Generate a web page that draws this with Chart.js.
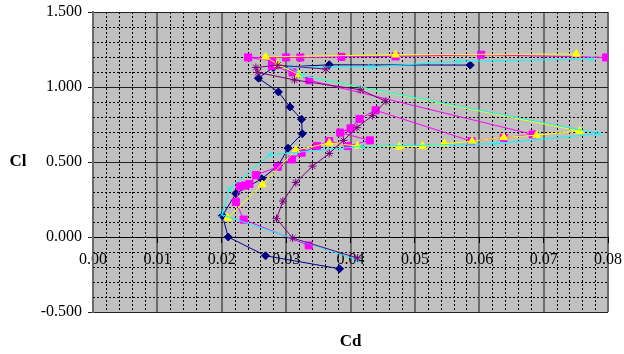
<!DOCTYPE html>
<html>
<head>
<meta charset="utf-8">
<script src="https://cdn.jsdelivr.net/npm/chart.js@4/dist/chart.umd.min.js"></script>
<style>
  html, body { margin: 0; padding: 0; background: #ffffff; }
  canvas { display: block; }
</style>
</head>
<body>
<canvas id="polar" width="624" height="354"></canvas>
<script>
// Drag polar: Cd on x, Cl on y, five runs
const navyCd = [0.0383, 0.0268, 0.0210, 0.0201, 0.0222, 0.0262, 0.0288, 0.0303, 0.0325, 0.0324, 0.0306, 0.0288, 0.0257, 0.0280, 0.0367, 0.0586];
const navyCl = [-0.212, -0.125, 0.000, 0.142, 0.290, 0.388, 0.477, 0.592, 0.689, 0.785, 0.867, 0.967, 1.059, 1.130, 1.148, 1.146];

const magCd = [0.0335, 0.0234, 0.0222, 0.0228, 0.0236, 0.0243, 0.0253, 0.0287, 0.0309, 0.0324, 0.0348, 0.0367, 0.0396, 0.0430, 0.0384, 0.0400, 0.0414, 0.0439, 0.0588, 0.0638, 0.0683, 0.0336, 0.0310, 0.0278, 0.0278, 0.0241, 0.0300, 0.0322, 0.0386, 0.0470, 0.0603, 0.0797];
const magCl = [-0.056, 0.116, 0.234, 0.338, 0.343, 0.353, 0.412, 0.468, 0.517, 0.562, 0.606, 0.639, 0.606, 0.644, 0.696, 0.724, 0.787, 0.845, 0.639, 0.662, 0.684, 1.045, 1.097, 1.141, 1.175, 1.197, 1.197, 1.197, 1.201, 1.204, 1.215, 1.197];

const yelCd = [0.0209, 0.0263, 0.0315, 0.0367, 0.0411, 0.0476, 0.0512, 0.0546, 0.0589, 0.0638, 0.0689, 0.0756, 0.0320, 0.0287, 0.0268, 0.0470, 0.0751];
const yelCl = [0.127, 0.350, 0.579, 0.627, 0.607, 0.601, 0.606, 0.622, 0.639, 0.664, 0.679, 0.706, 1.081, 1.152, 1.201, 1.215, 1.220];

const cyanCd = [0.0411, 0.0200, 0.0212, 0.0274, 0.0417, 0.0625, 0.0787, 0.0325, 0.0305, 0.0432, 0.0568, 0.0776];
const cyanCl = [-0.152, 0.149, 0.321, 0.548, 0.604, 0.622, 0.689, 1.076, 1.134, 1.134, 1.171, 1.186];

const purCd = [0.0411, 0.0310, 0.0285, 0.0295, 0.0315, 0.0341, 0.0367, 0.0389, 0.0410, 0.0434, 0.0455, 0.0415, 0.0313, 0.0256, 0.0253, 0.0287, 0.0362];
const purCl = [-0.140, -0.007, 0.122, 0.239, 0.363, 0.472, 0.557, 0.644, 0.729, 0.809, 0.905, 0.982, 1.047, 1.097, 1.130, 1.146, 1.119];

// Axis ranges and tick steps
const cdRange = [0.00, 0.08];
const clRange = [-0.5, 1.5];
const cdMajor = 0.01, cdMinor = 0.002;
const clMajor = 0.5, clMinor = 0.1;

const pts = (xs, ys) => xs.map((x, i) => ({ x: x, y: ys[i] }));

Chart.defaults.font.family = "'Liberation Serif', 'Times New Roman', serif";
Chart.defaults.color = '#000';

function onMajor(v, step) {
  const r = v / step;
  return Math.abs(r - Math.round(r)) < 1e-6;
}

function series(label, cd, cl, color, style, radius, order) {
  return {
    label: label,
    data: pts(cd, cl),
    showLine: true,
    borderColor: color,
    backgroundColor: color,
    borderWidth: 1,
    pointStyle: style,
    pointRadius: radius,
    pointBorderWidth: 1,
    pointBorderColor: color,
    pointBackgroundColor: color,
    xAxisID: 'x',
    yAxisID: 'y',
    order: order
  };
}

// keep label overhang from shrinking the plot area
function noOverhang(s) {
  s.paddingLeft = 0; s.paddingRight = 0; s.paddingTop = 0; s.paddingBottom = 0;
}

const plotBackground = {
  id: 'plotBackground',
  beforeDraw(chart) {
    const a = chart.chartArea, ctx = chart.ctx;
    ctx.save();
    ctx.fillStyle = '#c0c0c0';
    ctx.fillRect(a.left, a.top, a.right - a.left, a.bottom - a.top);
    ctx.restore();
  }
};

// Dotted minor grid, laid out from the minor-step scales' own ticks
const minorGrid = {
  id: 'minorGrid',
  beforeDatasetsDraw(chart) {
    const a = chart.chartArea, ctx = chart.ctx;
    const xs = chart.scales.xMinor, ys = chart.scales.yMinor;
    ctx.save();
    ctx.strokeStyle = '#000';
    ctx.lineWidth = 1;
    ctx.setLineDash([2, 2]);
    xs.ticks.forEach((t) => {
      if (onMajor(t.value, cdMajor)) return;
      const px = Math.round(xs.getPixelForValue(t.value)) + 0.5;
      ctx.beginPath(); ctx.moveTo(px, a.top); ctx.lineTo(px, a.bottom); ctx.stroke();
    });
    ys.ticks.forEach((t) => {
      if (onMajor(t.value, clMajor)) return;
      const py = Math.round(ys.getPixelForValue(t.value)) + 0.5;
      ctx.beginPath(); ctx.moveTo(a.left, py); ctx.lineTo(a.right, py); ctx.stroke();
    });
    ctx.restore();
  }
};

// Horizontal "Cl" axis title beside the value axis
const clTitle = {
  id: 'clTitle',
  afterDraw(chart) {
    const ctx = chart.ctx;
    const y = chart.scales.y.getPixelForValue(0.5);
    ctx.save();
    ctx.font = "bold 17px 'Liberation Serif', serif";
    ctx.fillStyle = '#000';
    ctx.textAlign = 'center';
    ctx.textBaseline = 'middle';
    ctx.fillText('Cl', 18, y);
    ctx.restore();
  }
};

new Chart(document.getElementById('polar'), {
  type: 'scatter',
  data: {
    datasets: [
      series('Series1', navyCd, navyCl, '#000080', 'rectRot', 4, 5),
      series('Series2', magCd, magCl, '#ff00ff', 'rect', 5, 4),
      series('Series3', yelCd, yelCl, '#ffff00', 'triangle', 4.5, 3),
      series('Series4', cyanCd, cyanCl, '#00ffff', 'crossRot', 4, 2),
      series('Series5', purCd, purCl, '#800080', 'star', 4, 1)
    ]
  },
  options: {
    responsive: false,
    devicePixelRatio: 1,
    animation: false,
    layout: { padding: { top: 12, right: 16, left: 0, bottom: 0 } },
    plugins: { legend: { display: false }, tooltip: { enabled: false } },
    scales: {
      x: {
        type: 'linear', position: 'bottom', min: cdRange[0], max: cdRange[1],
        ticks: { display: false, stepSize: cdMajor },
        grid: { color: '#6b6b6b', lineWidth: 2, drawTicks: false },
        border: { display: false },
        title: { display: true, text: 'Cd', color: '#000', font: { size: 17, weight: 'bold' }, padding: { top: 0, bottom: 2 } },
        afterFit(s) { s.height = 42; noOverhang(s); }
      },
      xMinor: {
        type: 'linear', axis: 'x', position: 'bottom', display: true, min: cdRange[0], max: cdRange[1],
        ticks: { display: false, stepSize: cdMinor, autoSkip: false },
        grid: { display: false, drawTicks: false },
        border: { display: false },
        afterFit(s) { s.height = 0; noOverhang(s); }
      },
      xAxis0: {
        type: 'linear', axis: 'x', position: { y: 0 }, min: cdRange[0], max: cdRange[1],
        ticks: { stepSize: cdMajor, color: '#000', font: { size: 16 }, padding: 8, maxRotation: 0, autoSkip: false,
                 callback: (v) => Number(v).toFixed(2) },
        grid: { drawOnChartArea: false, tickLength: 5, color: '#000' },
        border: { display: true, color: '#000', width: 1 },
        afterFit(s) { noOverhang(s); }
      },
      y: {
        type: 'linear', position: 'left', min: clRange[0], max: clRange[1],
        ticks: { stepSize: clMajor, color: '#000', font: { size: 16 }, padding: 6,
                 callback: (v) => Number(v).toFixed(3) },
        grid: { color: '#202020', lineWidth: 1, tickLength: 5 },
        border: { display: true, color: '#6b6b6b', width: 2 },
        afterFit(s) { s.width = 93; noOverhang(s); }
      },
      yMinor: {
        type: 'linear', axis: 'y', position: 'left', display: true, min: clRange[0], max: clRange[1],
        ticks: { display: false, stepSize: clMinor, autoSkip: false },
        grid: { display: false, drawTicks: false },
        border: { display: false },
        afterFit(s) { s.width = 0; noOverhang(s); }
      }
    }
  },
  plugins: [plotBackground, minorGrid, clTitle]
});
</script>
</body>
</html>
